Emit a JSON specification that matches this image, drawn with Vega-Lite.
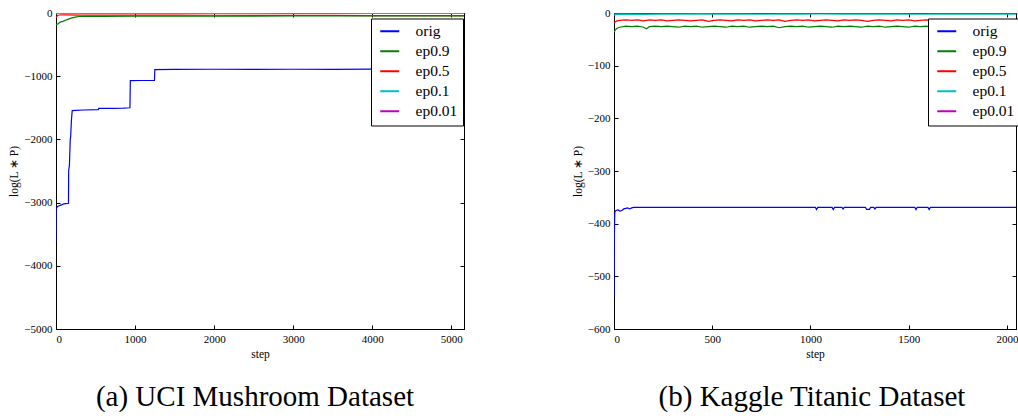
{
  "$schema": "https://vega.github.io/schema/vega-lite/v6.json",
  "padding": {"left": 8, "top": 6, "right": 0, "bottom": 0},
  "spacing": 106,
  "config": {
    "view": {"stroke": "black", "strokeWidth": 1},
    "axis": {
      "grid": false,
      "domainColor": "black",
      "tickColor": "black",
      "labelColor": "black",
      "titleColor": "black",
      "labelFont": "Liberation Serif",
      "titleFont": "Liberation Serif",
      "labelFontSize": 11,
      "titleFontSize": 11.5,
      "titleFontWeight": "normal",
      "tickSize": -4,
      "labelPadding": 8,
      "format": "d"
    },
    "legend": {
      "strokeColor": "black",
      "fillColor": "white",
      "padding": 5,
      "symbolType": "M-1.583,0H1.583",
      "symbolSize": 144,
      "symbolStrokeWidth": 2,
      "symbolOffset": 6,
      "labelFont": "Liberation Serif",
      "labelFontSize": 15.5,
      "labelColor": "black",
      "labelOffset": 18,
      "rowPadding": 3,
      "cornerRadius": 0
    },
    "title": {"font": "Liberation Serif", "fontSize": 29, "fontWeight": "normal", "color": "black"}
  },
  "datasets": {
    "mush": [
      {"series": "ep0.01", "step": 0, "value": -2}, {"series": "ep0.01", "step": 100, "value": -1}, {"series": "ep0.01", "step": 5160, "value": -1},
      {"series": "ep0.1", "step": 0, "value": -15}, {"series": "ep0.1", "step": 20, "value": -8}, {"series": "ep0.1", "step": 100, "value": -6}, {"series": "ep0.1", "step": 1000, "value": -5}, {"series": "ep0.1", "step": 2000, "value": -5}, {"series": "ep0.1", "step": 3000, "value": -4}, {"series": "ep0.1", "step": 4000, "value": -5}, {"series": "ep0.1", "step": 5160, "value": -5},
      {"series": "ep0.5", "step": 0, "value": -80}, {"series": "ep0.5", "step": 8, "value": -55}, {"series": "ep0.5", "step": 20, "value": -40}, {"series": "ep0.5", "step": 40, "value": -32}, {"series": "ep0.5", "step": 100, "value": -30}, {"series": "ep0.5", "step": 300, "value": -33}, {"series": "ep0.5", "step": 600, "value": -35}, {"series": "ep0.5", "step": 1000, "value": -34}, {"series": "ep0.5", "step": 1500, "value": -35}, {"series": "ep0.5", "step": 2000, "value": -36}, {"series": "ep0.5", "step": 2500, "value": -37}, {"series": "ep0.5", "step": 3000, "value": -38}, {"series": "ep0.5", "step": 3500, "value": -39}, {"series": "ep0.5", "step": 4000, "value": -40}, {"series": "ep0.5", "step": 4500, "value": -42}, {"series": "ep0.5", "step": 5160, "value": -42},
      {"series": "ep0.9", "step": 0, "value": -190}, {"series": "ep0.9", "step": 15, "value": -175}, {"series": "ep0.9", "step": 30, "value": -170}, {"series": "ep0.9", "step": 45, "value": -150}, {"series": "ep0.9", "step": 60, "value": -140}, {"series": "ep0.9", "step": 80, "value": -138}, {"series": "ep0.9", "step": 100, "value": -125}, {"series": "ep0.9", "step": 125, "value": -110}, {"series": "ep0.9", "step": 150, "value": -100}, {"series": "ep0.9", "step": 175, "value": -90}, {"series": "ep0.9", "step": 200, "value": -78}, {"series": "ep0.9", "step": 230, "value": -68}, {"series": "ep0.9", "step": 260, "value": -60}, {"series": "ep0.9", "step": 300, "value": -55}, {"series": "ep0.9", "step": 400, "value": -53}, {"series": "ep0.9", "step": 600, "value": -52}, {"series": "ep0.9", "step": 1000, "value": -50}, {"series": "ep0.9", "step": 1500, "value": -49}, {"series": "ep0.9", "step": 2000, "value": -48}, {"series": "ep0.9", "step": 2500, "value": -48}, {"series": "ep0.9", "step": 3000, "value": -47}, {"series": "ep0.9", "step": 3500, "value": -46}, {"series": "ep0.9", "step": 4000, "value": -46}, {"series": "ep0.9", "step": 4500, "value": -45}, {"series": "ep0.9", "step": 5160, "value": -45},
      {"series": "orig", "step": 0, "value": -3620}, {"series": "orig", "step": 3, "value": -3100}, {"series": "orig", "step": 10, "value": -3080}, {"series": "orig", "step": 20, "value": -3060}, {"series": "orig", "step": 40, "value": -3050}, {"series": "orig", "step": 60, "value": -3040}, {"series": "orig", "step": 80, "value": -3030}, {"series": "orig", "step": 100, "value": -3020}, {"series": "orig", "step": 120, "value": -3015}, {"series": "orig", "step": 158, "value": -3010}, {"series": "orig", "step": 160, "value": -2500}, {"series": "orig", "step": 170, "value": -2400}, {"series": "orig", "step": 180, "value": -2000}, {"series": "orig", "step": 185, "value": -1970}, {"series": "orig", "step": 195, "value": -1700}, {"series": "orig", "step": 205, "value": -1545}, {"series": "orig", "step": 250, "value": -1540}, {"series": "orig", "step": 350, "value": -1535}, {"series": "orig", "step": 535, "value": -1530}, {"series": "orig", "step": 540, "value": -1510}, {"series": "orig", "step": 700, "value": -1508}, {"series": "orig", "step": 850, "value": -1505}, {"series": "orig", "step": 935, "value": -1500}, {"series": "orig", "step": 940, "value": -1070}, {"series": "orig", "step": 1100, "value": -1068}, {"series": "orig", "step": 1245, "value": -1065}, {"series": "orig", "step": 1250, "value": -895}, {"series": "orig", "step": 1500, "value": -893}, {"series": "orig", "step": 2000, "value": -890}, {"series": "orig", "step": 2500, "value": -892}, {"series": "orig", "step": 3000, "value": -890}, {"series": "orig", "step": 3500, "value": -893}, {"series": "orig", "step": 4000, "value": -887}, {"series": "orig", "step": 4500, "value": -888}, {"series": "orig", "step": 5000, "value": -887}, {"series": "orig", "step": 5160, "value": -887}
    ],
    "titanic": [
      {"series": "ep0.01", "step": 0, "value": -1}, {"series": "ep0.01", "step": 50, "value": -0.5}, {"series": "ep0.01", "step": 2046, "value": -0.5},
      {"series": "ep0.1", "step": 0, "value": -4}, {"series": "ep0.1", "step": 10, "value": -3}, {"series": "ep0.1", "step": 50, "value": -2}, {"series": "ep0.1", "step": 150, "value": -2.5}, {"series": "ep0.1", "step": 250, "value": -2}, {"series": "ep0.1", "step": 350, "value": -2.3}, {"series": "ep0.1", "step": 450, "value": -1.8}, {"series": "ep0.1", "step": 550, "value": -2.2}, {"series": "ep0.1", "step": 650, "value": -2}, {"series": "ep0.1", "step": 750, "value": -2.4}, {"series": "ep0.1", "step": 850, "value": -2}, {"series": "ep0.1", "step": 950, "value": -2.2}, {"series": "ep0.1", "step": 1050, "value": -1.9}, {"series": "ep0.1", "step": 1150, "value": -2.3}, {"series": "ep0.1", "step": 1250, "value": -2}, {"series": "ep0.1", "step": 1350, "value": -2.2}, {"series": "ep0.1", "step": 1450, "value": -2}, {"series": "ep0.1", "step": 1550, "value": -2.4}, {"series": "ep0.1", "step": 1650, "value": -2}, {"series": "ep0.1", "step": 1750, "value": -2.1}, {"series": "ep0.1", "step": 1850, "value": -2.3}, {"series": "ep0.1", "step": 1950, "value": -2}, {"series": "ep0.1", "step": 2046, "value": -2},
      {"series": "ep0.5", "step": 0, "value": -20}, {"series": "ep0.5", "step": 5, "value": -17}, {"series": "ep0.5", "step": 15, "value": -15}, {"series": "ep0.5", "step": 30, "value": -14}, {"series": "ep0.5", "step": 60, "value": -13}, {"series": "ep0.5", "step": 90, "value": -14}, {"series": "ep0.5", "step": 120, "value": -13}, {"series": "ep0.5", "step": 150, "value": -15}, {"series": "ep0.5", "step": 180, "value": -13}, {"series": "ep0.5", "step": 210, "value": -14}, {"series": "ep0.5", "step": 240, "value": -13}, {"series": "ep0.5", "step": 270, "value": -15}, {"series": "ep0.5", "step": 300, "value": -14}, {"series": "ep0.5", "step": 330, "value": -13}, {"series": "ep0.5", "step": 360, "value": -14}, {"series": "ep0.5", "step": 390, "value": -15}, {"series": "ep0.5", "step": 420, "value": -14}, {"series": "ep0.5", "step": 450, "value": -13}, {"series": "ep0.5", "step": 480, "value": -16}, {"series": "ep0.5", "step": 510, "value": -14}, {"series": "ep0.5", "step": 540, "value": -13}, {"series": "ep0.5", "step": 570, "value": -14}, {"series": "ep0.5", "step": 600, "value": -15}, {"series": "ep0.5", "step": 630, "value": -13}, {"series": "ep0.5", "step": 660, "value": -14}, {"series": "ep0.5", "step": 690, "value": -13}, {"series": "ep0.5", "step": 720, "value": -15}, {"series": "ep0.5", "step": 750, "value": -14}, {"series": "ep0.5", "step": 780, "value": -13}, {"series": "ep0.5", "step": 810, "value": -14}, {"series": "ep0.5", "step": 840, "value": -13}, {"series": "ep0.5", "step": 870, "value": -16}, {"series": "ep0.5", "step": 900, "value": -14}, {"series": "ep0.5", "step": 930, "value": -13}, {"series": "ep0.5", "step": 960, "value": -14}, {"series": "ep0.5", "step": 990, "value": -13}, {"series": "ep0.5", "step": 1020, "value": -15}, {"series": "ep0.5", "step": 1050, "value": -14}, {"series": "ep0.5", "step": 1080, "value": -13}, {"series": "ep0.5", "step": 1110, "value": -14}, {"series": "ep0.5", "step": 1140, "value": -15}, {"series": "ep0.5", "step": 1170, "value": -13}, {"series": "ep0.5", "step": 1200, "value": -14}, {"series": "ep0.5", "step": 1230, "value": -13}, {"series": "ep0.5", "step": 1260, "value": -14}, {"series": "ep0.5", "step": 1290, "value": -16}, {"series": "ep0.5", "step": 1320, "value": -14}, {"series": "ep0.5", "step": 1350, "value": -13}, {"series": "ep0.5", "step": 1380, "value": -14}, {"series": "ep0.5", "step": 1410, "value": -15}, {"series": "ep0.5", "step": 1440, "value": -13}, {"series": "ep0.5", "step": 1470, "value": -14}, {"series": "ep0.5", "step": 1500, "value": -13}, {"series": "ep0.5", "step": 1530, "value": -15}, {"series": "ep0.5", "step": 1560, "value": -14}, {"series": "ep0.5", "step": 1590, "value": -13}, {"series": "ep0.5", "step": 1620, "value": -14}, {"series": "ep0.5", "step": 1650, "value": -16}, {"series": "ep0.5", "step": 1680, "value": -14}, {"series": "ep0.5", "step": 1710, "value": -13}, {"series": "ep0.5", "step": 1740, "value": -14}, {"series": "ep0.5", "step": 1770, "value": -15}, {"series": "ep0.5", "step": 1800, "value": -14}, {"series": "ep0.5", "step": 1830, "value": -13}, {"series": "ep0.5", "step": 1860, "value": -14}, {"series": "ep0.5", "step": 1890, "value": -13}, {"series": "ep0.5", "step": 1920, "value": -15}, {"series": "ep0.5", "step": 1950, "value": -14}, {"series": "ep0.5", "step": 1980, "value": -13}, {"series": "ep0.5", "step": 2010, "value": -14}, {"series": "ep0.5", "step": 2046, "value": -14},
      {"series": "ep0.9", "step": 0, "value": -37}, {"series": "ep0.9", "step": 5, "value": -33}, {"series": "ep0.9", "step": 15, "value": -29}, {"series": "ep0.9", "step": 30, "value": -27}, {"series": "ep0.9", "step": 60, "value": -25}, {"series": "ep0.9", "step": 90, "value": -26}, {"series": "ep0.9", "step": 120, "value": -25}, {"series": "ep0.9", "step": 150, "value": -27}, {"series": "ep0.9", "step": 165, "value": -30}, {"series": "ep0.9", "step": 180, "value": -26}, {"series": "ep0.9", "step": 210, "value": -25}, {"series": "ep0.9", "step": 240, "value": -26}, {"series": "ep0.9", "step": 270, "value": -25}, {"series": "ep0.9", "step": 300, "value": -26}, {"series": "ep0.9", "step": 330, "value": -27}, {"series": "ep0.9", "step": 360, "value": -25}, {"series": "ep0.9", "step": 390, "value": -26}, {"series": "ep0.9", "step": 420, "value": -25}, {"series": "ep0.9", "step": 450, "value": -27}, {"series": "ep0.9", "step": 480, "value": -26}, {"series": "ep0.9", "step": 510, "value": -25}, {"series": "ep0.9", "step": 540, "value": -26}, {"series": "ep0.9", "step": 570, "value": -27}, {"series": "ep0.9", "step": 600, "value": -25}, {"series": "ep0.9", "step": 630, "value": -26}, {"series": "ep0.9", "step": 660, "value": -25}, {"series": "ep0.9", "step": 690, "value": -27}, {"series": "ep0.9", "step": 720, "value": -26}, {"series": "ep0.9", "step": 750, "value": -25}, {"series": "ep0.9", "step": 780, "value": -26}, {"series": "ep0.9", "step": 810, "value": -25}, {"series": "ep0.9", "step": 840, "value": -28}, {"series": "ep0.9", "step": 870, "value": -26}, {"series": "ep0.9", "step": 900, "value": -25}, {"series": "ep0.9", "step": 930, "value": -26}, {"series": "ep0.9", "step": 960, "value": -25}, {"series": "ep0.9", "step": 990, "value": -27}, {"series": "ep0.9", "step": 1020, "value": -26}, {"series": "ep0.9", "step": 1050, "value": -25}, {"series": "ep0.9", "step": 1080, "value": -26}, {"series": "ep0.9", "step": 1110, "value": -27}, {"series": "ep0.9", "step": 1140, "value": -25}, {"series": "ep0.9", "step": 1170, "value": -26}, {"series": "ep0.9", "step": 1200, "value": -25}, {"series": "ep0.9", "step": 1230, "value": -26}, {"series": "ep0.9", "step": 1260, "value": -27}, {"series": "ep0.9", "step": 1290, "value": -25}, {"series": "ep0.9", "step": 1320, "value": -26}, {"series": "ep0.9", "step": 1350, "value": -25}, {"series": "ep0.9", "step": 1380, "value": -27}, {"series": "ep0.9", "step": 1410, "value": -26}, {"series": "ep0.9", "step": 1440, "value": -25}, {"series": "ep0.9", "step": 1470, "value": -26}, {"series": "ep0.9", "step": 1500, "value": -27}, {"series": "ep0.9", "step": 1530, "value": -25}, {"series": "ep0.9", "step": 1560, "value": -26}, {"series": "ep0.9", "step": 1590, "value": -25}, {"series": "ep0.9", "step": 1620, "value": -27}, {"series": "ep0.9", "step": 1650, "value": -26}, {"series": "ep0.9", "step": 1680, "value": -25}, {"series": "ep0.9", "step": 1710, "value": -26}, {"series": "ep0.9", "step": 1740, "value": -27}, {"series": "ep0.9", "step": 1770, "value": -25}, {"series": "ep0.9", "step": 1800, "value": -26}, {"series": "ep0.9", "step": 1830, "value": -25}, {"series": "ep0.9", "step": 1860, "value": -26}, {"series": "ep0.9", "step": 1890, "value": -27}, {"series": "ep0.9", "step": 1920, "value": -25}, {"series": "ep0.9", "step": 1950, "value": -26}, {"series": "ep0.9", "step": 1980, "value": -25}, {"series": "ep0.9", "step": 2010, "value": -26}, {"series": "ep0.9", "step": 2046, "value": -26},
      {"series": "orig", "step": 0, "value": -540}, {"series": "orig", "step": 2, "value": -420}, {"series": "orig", "step": 4, "value": -378}, {"series": "orig", "step": 10, "value": -375}, {"series": "orig", "step": 20, "value": -374}, {"series": "orig", "step": 30, "value": -376}, {"series": "orig", "step": 40, "value": -375}, {"series": "orig", "step": 50, "value": -372}, {"series": "orig", "step": 60, "value": -371}, {"series": "orig", "step": 70, "value": -370}, {"series": "orig", "step": 80, "value": -372}, {"series": "orig", "step": 90, "value": -370}, {"series": "orig", "step": 100, "value": -369}, {"series": "orig", "step": 300, "value": -369}, {"series": "orig", "step": 500, "value": -369}, {"series": "orig", "step": 700, "value": -369}, {"series": "orig", "step": 900, "value": -369}, {"series": "orig", "step": 1025, "value": -369}, {"series": "orig", "step": 1031, "value": -373}, {"series": "orig", "step": 1037, "value": -369}, {"series": "orig", "step": 1110, "value": -369}, {"series": "orig", "step": 1116, "value": -373}, {"series": "orig", "step": 1122, "value": -369}, {"series": "orig", "step": 1160, "value": -369}, {"series": "orig", "step": 1166, "value": -372}, {"series": "orig", "step": 1172, "value": -369}, {"series": "orig", "step": 1280, "value": -369}, {"series": "orig", "step": 1286, "value": -373}, {"series": "orig", "step": 1300, "value": -373}, {"series": "orig", "step": 1306, "value": -369}, {"series": "orig", "step": 1322, "value": -369}, {"series": "orig", "step": 1328, "value": -372}, {"series": "orig", "step": 1334, "value": -369}, {"series": "orig", "step": 1531, "value": -369}, {"series": "orig", "step": 1537, "value": -373}, {"series": "orig", "step": 1543, "value": -369}, {"series": "orig", "step": 1598, "value": -369}, {"series": "orig", "step": 1604, "value": -373}, {"series": "orig", "step": 1610, "value": -369}, {"series": "orig", "step": 1800, "value": -369}, {"series": "orig", "step": 2046, "value": -369}
    ]
  },
  "hconcat": [
    {
      "width": 408,
      "height": 316,
      "data": {"name": "mush"},
      "title": {"text": "(a) UCI Mushroom Dataset", "orient": "bottom", "anchor": "middle", "frame": "group", "offset": 23, "dx": -5},
      "layer": [
        {
          "mark": {"type": "line", "opacity": 0},
          "encoding": {
            "x": {"field": "step", "type": "quantitative", "scale": {"domain": [0, 5160], "nice": false, "zero": false}, "axis": {"orient": "top", "labels": false, "title": null, "domain": false, "values": [0, 1000, 2000, 3000, 4000, 5000]}},
            "y": {"field": "value", "type": "quantitative", "scale": {"domain": [-5000, 0], "nice": false, "zero": false}, "axis": {"orient": "right", "labels": false, "title": null, "domain": false, "values": [-5000, -4000, -3000, -2000, -1000, 0]}}
          }
        },
        {
          "mark": {"type": "line", "strokeWidth": 1.2, "clip": true},
          "encoding": {
            "x": {"field": "step", "type": "quantitative", "axis": {"orient": "bottom", "title": "step", "format": "d", "values": [0, 1000, 2000, 3000, 4000, 5000]}},
            "y": {"field": "value", "type": "quantitative", "axis": {"orient": "left", "title": "log(L ∗ P)", "format": "d", "values": [-5000, -4000, -3000, -2000, -1000, 0]}},
            "color": {"field": "series", "type": "nominal", "scale": {"domain": ["orig", "ep0.9", "ep0.5", "ep0.1", "ep0.01"], "range": ["#0000ff", "#008000", "#ff0000", "#00bfbf", "#bf00bf"]}, "legend": {"title": null, "orient": "none", "legendX": 315, "legendY": 5.5}}
          }
        }
      ]
    },
    {
      "width": 402,
      "height": 316,
      "data": {"name": "titanic"},
      "title": {"text": "(b) Kaggle Titanic Dataset", "orient": "bottom", "anchor": "middle", "frame": "group", "offset": 23, "dx": -3},
      "layer": [
        {
          "mark": {"type": "line", "opacity": 0},
          "encoding": {
            "x": {"field": "step", "type": "quantitative", "scale": {"domain": [0, 2046], "nice": false, "zero": false}, "axis": {"orient": "top", "labels": false, "title": null, "domain": false, "values": [0, 500, 1000, 1500, 2000]}},
            "y": {"field": "value", "type": "quantitative", "scale": {"domain": [-600, 0], "nice": false, "zero": false}, "axis": {"orient": "right", "labels": false, "title": null, "domain": false, "values": [-600, -500, -400, -300, -200, -100, 0]}}
          }
        },
        {
          "mark": {"type": "line", "strokeWidth": 1.2, "clip": true},
          "encoding": {
            "x": {"field": "step", "type": "quantitative", "axis": {"orient": "bottom", "title": "step", "format": "d", "values": [0, 500, 1000, 1500, 2000]}},
            "y": {"field": "value", "type": "quantitative", "axis": {"orient": "left", "title": "log(L ∗ P)", "format": "d", "values": [-600, -500, -400, -300, -200, -100, 0]}},
            "color": {"field": "series", "type": "nominal", "scale": {"domain": ["orig", "ep0.9", "ep0.5", "ep0.1", "ep0.01"], "range": ["#0000ff", "#008000", "#ff0000", "#00bfbf", "#bf00bf"]}, "legend": {"title": null, "orient": "none", "legendX": 314, "legendY": 5.5}}
          }
        }
      ]
    }
  ],
  "resolve": {"scale": {"color": "independent"}, "legend": {"color": "independent"}}
}
